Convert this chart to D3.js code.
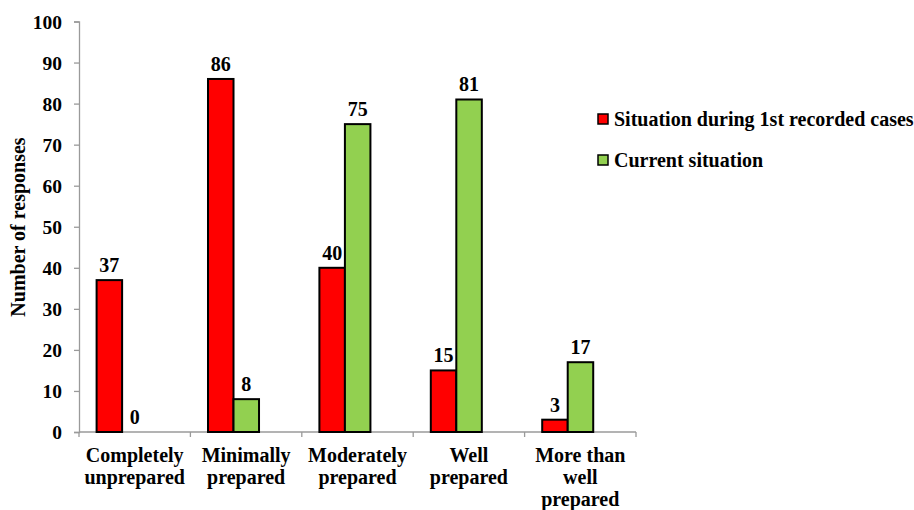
<!DOCTYPE html>
<html>
<head>
<meta charset="utf-8">
<script src="https://cdn.jsdelivr.net/npm/d3@7"></script>
<style>
  body { margin: 0; background: #fff; }
  svg { display: block; }
  text { font-family: "Liberation Serif", "Times New Roman", serif; font-weight: bold; fill: #000; }
</style>
</head>
<body>
<svg id="chart" width="914" height="510"></svg>
<script>
// Preparedness categories (multi-line labels)
const categories = [
  ["Completely", "unprepared"],
  ["Minimally", "prepared"],
  ["Moderately", "prepared"],
  ["Well", "prepared"],
  ["More than", "well", "prepared"]
];
const seriesNames = ["Situation during 1st recorded cases", "Current situation"];
const firstCases = [37, 86, 40, 15, 3];
const currentSituation = [0, 8, 75, 81, 17];
const seriesColors = ["#ff0000", "#92d050"];
const yTicks = [0, 10, 20, 30, 40, 50, 60, 70, 80, 90, 100];

const FS = 20;
const svg = d3.select("#chart");
const margin = { left: 79, top: 21.5, right: 636, bottom: 432 };

const y = d3.scaleLinear().domain([0, 100]).range([margin.bottom, margin.top]);
const catKeys = categories.map((c, i) => i);
const x0 = d3.scaleBand().domain(catKeys).range([margin.left, margin.right]).paddingInner(0).paddingOuter(0);
const bw = x0.bandwidth();
const barW = bw * 0.229;
const x1 = d3.scaleBand().domain(d3.range(seriesNames.length))
  .range([bw * 0.158, bw * 0.158 + barW * seriesNames.length]);

const values = [firstCases, currentSituation];

// Y axis
const yAxis = d3.axisLeft(y).tickValues(yTicks).tickSize(5).tickPadding(12);
const gy = svg.append("g").attr("transform", `translate(${margin.left},0)`).call(yAxis);
gy.select(".domain").attr("stroke", "#9a9a9a").attr("stroke-width", 1.3);
gy.selectAll(".tick line").attr("stroke", "#9a9a9a").attr("stroke-width", 1.3);
gy.selectAll(".tick text").attr("font-size", 19.5).attr("font-family", "Liberation Serif").attr("font-weight", "bold").attr("fill", "#000").attr("dy", "0.34em");

// X axis
const gx = svg.append("g").attr("transform", `translate(0,${margin.bottom})`);
gx.append("line").attr("x1", margin.left).attr("x2", margin.right).attr("y1", 0).attr("y2", 0)
  .attr("stroke", "#9a9a9a").attr("stroke-width", 1.3);
gx.selectAll(".ctick").data(d3.range(categories.length + 1)).join("line")
  .attr("x1", i => margin.left + i * bw).attr("x2", i => margin.left + i * bw)
  .attr("y1", 0).attr("y2", 5).attr("stroke", "#9a9a9a").attr("stroke-width", 1.3);

const catLabels = gx.selectAll(".clabel").data(categories).join("text")
  .attr("text-anchor", "middle").attr("font-size", FS)
  .attr("x", (d, i) => x0(i) + bw / 2).attr("y", 30);
catLabels.selectAll("tspan").data(d => d).join("tspan")
  .attr("x", function () { return d3.select(this.parentNode).attr("x"); })
  .attr("dy", (d, j) => j === 0 ? 0 : 22)
  .text(d => d);

// Bars with value labels
seriesNames.forEach((name, s) => {
  const pts = values[s].map((v, i) => ({ v, i }));
  const g = svg.append("g");
  g.selectAll("rect").data(pts.filter(p => p.v > 0)).join("rect")
    .attr("x", p => x0(p.i) + x1(s))
    .attr("y", p => y(p.v))
    .attr("width", x1.bandwidth())
    .attr("height", p => y(0) - y(p.v))
    .attr("fill", seriesColors[s])
    .attr("stroke", "#000").attr("stroke-width", 2);
  g.selectAll("text").data(pts).join("text")
    .attr("text-anchor", "middle").attr("font-size", FS)
    .attr("x", p => x0(p.i) + x1(s) + x1.bandwidth() / 2)
    .attr("y", p => y(p.v) - 8)
    .text(p => p.v);
});

// Y axis title
svg.append("text").attr("transform", "translate(25,227) rotate(-90)")
  .attr("text-anchor", "middle").attr("font-size", FS).text("Number of responses");

// Legend
const legend = svg.append("g").attr("transform", "translate(598,114)");
seriesNames.forEach((name, s) => {
  const row = legend.append("g").attr("transform", `translate(0,${s * 41})`);
  row.append("rect").attr("width", 10).attr("height", 10)
    .attr("fill", seriesColors[s]).attr("stroke", "#000").attr("stroke-width", 1.5);
  row.append("text").attr("x", 16).attr("y", 12).attr("font-size", FS).text(name);
});
</script>
</body>
</html>
